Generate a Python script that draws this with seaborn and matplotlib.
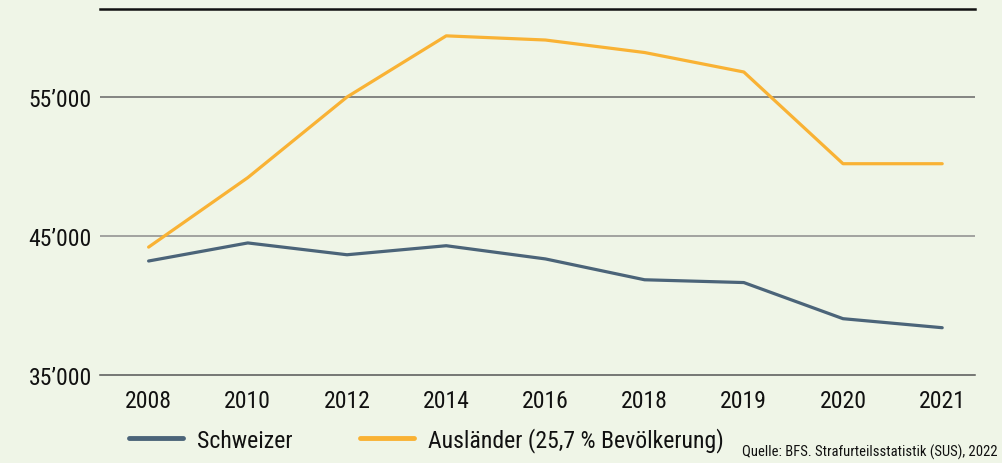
import matplotlib
matplotlib.use("Agg")
import matplotlib.pyplot as plt
from matplotlib import font_manager as fm
from matplotlib.lines import Line2D
import pandas as pd
import seaborn as sns

years = ["2008", "2010", "2012", "2014", "2016", "2018", "2019", "2020", "2021"]
schweizer = [43200, 44500, 43650, 44300, 43350, 41850, 41650, 39050, 38400]
auslaender = [44200, 49200, 55000, 59400, 59100, 58200, 56800, 50200, 50200]
y_ticks = [35000, 45000, 55000]
y_labels = ["35\u2019000", "45\u2019000", "55\u2019000"]

lbl_ch = "Schweizer"
lbl_aus = "Ausländer (25,7 % Bevölkerung)"
quelle = "Quelle: BFS. Strafurteilsstatistik (SUS), 2022"

df = pd.DataFrame({
    "pos": list(range(len(years))) * 2,
    "wert": schweizer + auslaender,
    "gruppe": [lbl_ch] * len(years) + [lbl_aus] * len(years),
})

bg = "#eff5e7"
sns.set_theme(style="white")

# pick a narrow font if one is installed
fonts = [(f.name, f.stretch) for f in fm.fontManager.ttflist]
names = {n for n, _ in fonts}
family, stretch, scale = "DejaVu Sans", "normal", 0.7
for cand in ["Roboto Condensed", "Liberation Sans Narrow", "Open Sans Condensed",
             "Noto Sans Condensed", "DejaVu Sans Condensed"]:
    if cand in names:
        family, stretch, scale = cand, "normal", 0.9
        break
plt.rcParams["font.family"] = [family, "DejaVu Sans"]
plt.rcParams["font.stretch"] = stretch

fs = 19 * scale
px = fs * 100 / 72

fig = plt.figure(figsize=(10.02, 4.64), dpi=100, facecolor=bg)
ax = fig.add_axes([0.0998, 0.1897, 0.8732, 0.7887])
ax.set_facecolor(bg)

sns.lineplot(data=df, x="pos", y="wert", hue="gruppe",
             palette={lbl_ch: "#4b6479", lbl_aus: "#f9b234"},
             linewidth=2.3, ax=ax, legend=False)

ax.set_xlim(-0.49, 8.33)
ax.set_ylim(35000, 61330)
ax.set_xticks(range(len(years)))
ax.set_xticklabels(years)
ax.set_yticks(y_ticks)
ax.set_yticklabels(y_labels)
ax.set_xlabel("")
ax.set_ylabel("")
ax.tick_params(axis="both", length=0, labelsize=fs, colors="#111111")
ax.tick_params(axis="x", pad=10)
ax.tick_params(axis="y", pad=6)

for y in y_ticks[1:]:
    ax.axhline(y, color="#8c8c8c" if y == 45000 else "#666666", lw=1.1, zorder=0)

for s in ["left", "right"]:
    ax.spines[s].set_visible(False)
ax.spines["top"].set_color("#111111")
ax.spines["top"].set_linewidth(1.8)
ax.spines["bottom"].set_color("#555555")
ax.spines["bottom"].set_linewidth(1.1)

handles = [Line2D([], [], color="#4b6479", lw=3.5),
           Line2D([], [], color="#f9b234", lw=3.5)]
fig.legend(handles, [lbl_ch, lbl_aus], loc="center left",
           bbox_to_anchor=(0.1287, 0.05), ncol=2, frameon=False,
           borderpad=0, borderaxespad=0,
           fontsize=fs, handlelength=54 / px, columnspacing=68 / px,
           handletextpad=14 / px, labelcolor="#111111")

fig.text(0.996, 0.025, quelle, ha="right", va="center",
         fontsize=10.5, color="#111111")

fig.savefig("out.png", dpi=100, facecolor=bg)
